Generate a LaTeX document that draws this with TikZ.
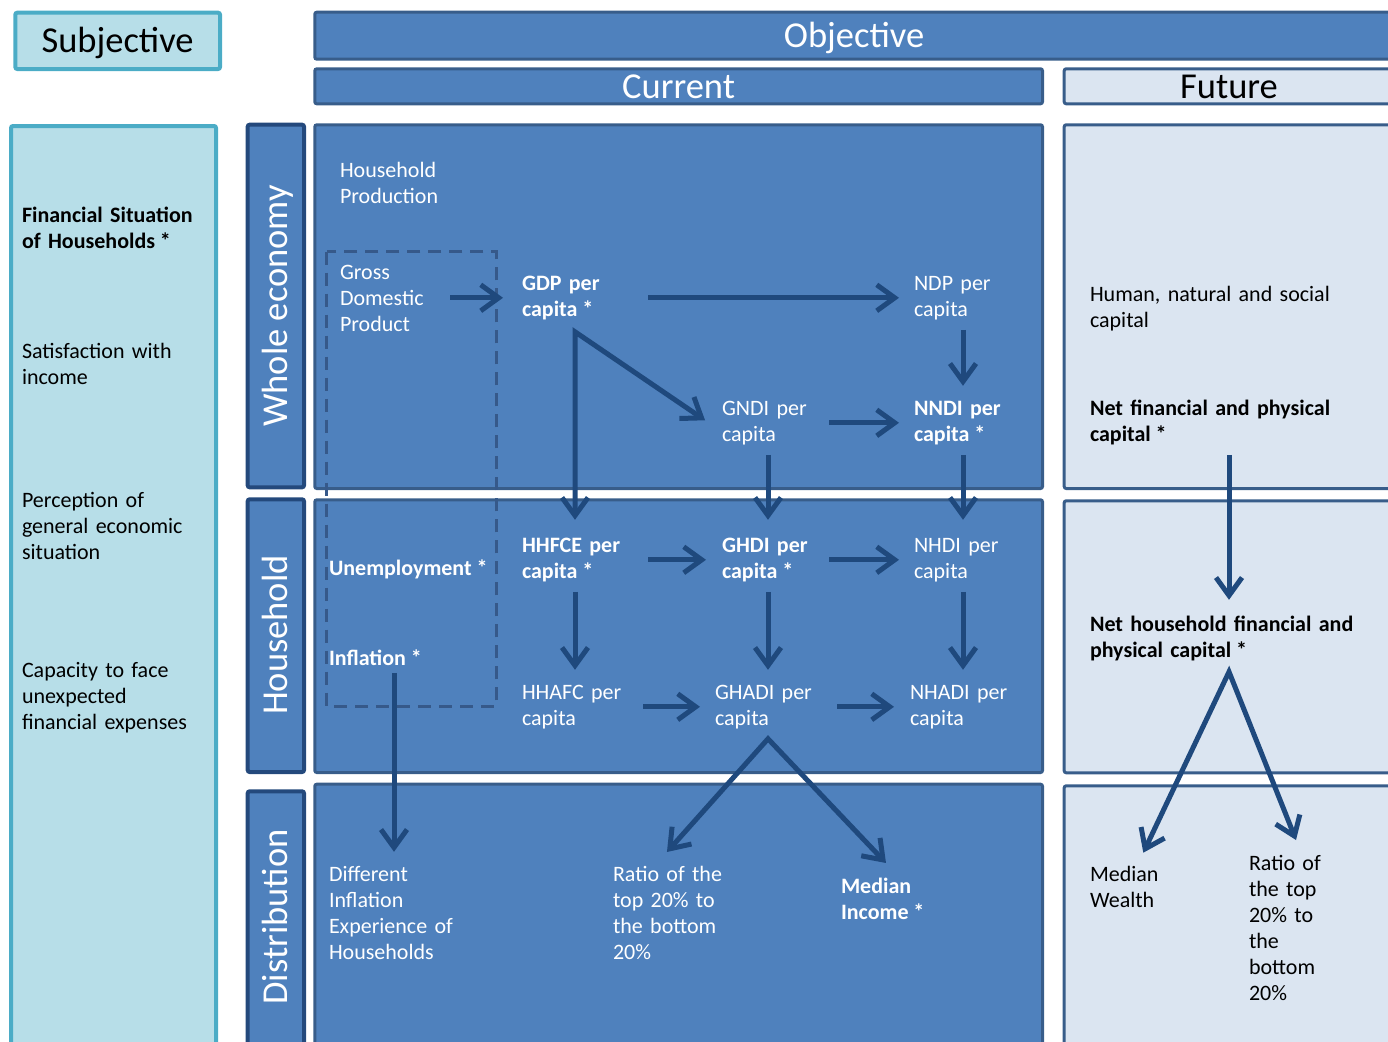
\documentclass[tikz,border=0pt]{standalone}
\usepackage{fontspec}
\setmainfont{Carlito}
\usetikzlibrary{arrows.meta}
\definecolor{bfill}{HTML}{4F81BD}
\definecolor{bline}{HTML}{385D8A}
\definecolor{rline}{HTML}{24497C}
\definecolor{lfill}{HTML}{B7DEE8}
\definecolor{lline}{HTML}{4BACC6}
\definecolor{ffill}{HTML}{DBE5F1}
\definecolor{arrc}{HTML}{1F497D}
\definecolor{dashc}{HTML}{36598A}
\newcommand\bodyfont{\fontsize{22}{26}\selectfont}
\newcommand\titlefont{\fontsize{36.5}{40}\selectfont}
\newcommand\myast{\hspace{0.22em}*}
\begin{document}
\begin{tikzpicture}[x=1pt,y=-1pt,
 bluebox/.style={draw=bline, fill=bfill, line width=3pt, rounded corners=2pt},
 rowbox/.style={draw=rline, fill=bfill, line width=4pt, rounded corners=2pt},
 futbox/.style={draw=bline, fill=ffill, line width=3pt, rounded corners=2pt},
 subbox/.style={draw=lline, fill=lfill, line width=4pt, rounded corners=2pt},
 txt/.style={anchor=north west, inner sep=0pt, outer sep=0pt, align=left, font=\bodyfont, execute at begin node=\strut, execute at end node=\strut},
 wt/.style={txt, text=white},
 wtb/.style={wt, font=\bodyfont\bfseries},
 dk/.style={txt, text=black},
 dkb/.style={dk, font=\bodyfont\bfseries},
 ttl/.style={inner sep=0pt, font=\titlefont, text height=23.5pt, text depth=0pt},
 arr/.style={draw=arrc, line width=5pt, -{Straight Barb[length=18pt,width=26pt]}},
 arrb/.style={draw=arrc, line width=5pt, {Straight Barb[length=18pt,width=26pt]}-{Straight Barb[length=18pt,width=26pt]}},
]
\clip (0,0) rectangle (1388,1041);
% header boxes
\path[subbox] (15.3,12.7) rectangle (220,69);
\path[bluebox] (314.8,12.2) rectangle (1395,59.2);
\path[bluebox] (314.8,68.8) rectangle (1042.5,103.8);
\path[futbox] (1064.2,68.8) rectangle (1396,103.8);
% left column
\path[subbox] (11,126) rectangle (216,1060);
% row labels
\path[rowbox] (247.7,124.7) rectangle (304,487.3);
\path[rowbox] (247.7,499.3) rectangle (304,772);
\path[rowbox] (247.7,791.3) rectangle (304,1060);
% current panels
\path[bluebox] (314.8,124.8) rectangle (1042.5,488.5);
\path[bluebox] (314.8,499.8) rectangle (1042.5,772.5);
\path[bluebox] (314.8,784.2) rectangle (1042.5,1060);
% future panels
\path[futbox] (1064.2,124.8) rectangle (1400,488.5);
\path[futbox] (1064.2,500.8) rectangle (1400,772.8);
\path[futbox] (1064.2,785.8) rectangle (1400,1060);
% dashed box
\draw[dashc, line width=3pt, dash pattern=on 13pt off 8pt] (326.7,251.7) rectangle (496.7,706);

% titles
\node[ttl] (subj) at (117.6,41) {Subjective};
\node[ttl, text=white] (obj) at (854,36) {Objective};
\node[ttl, text=white] (cur) at (678.6,87) {Current};
\node[ttl] (fut) at (1229,87) {Future};
\node[ttl, text=white, rotate=90] (we) at (276,306) {Whole economy};
\node[ttl, text=white, rotate=90] (hh) at (276,635) {Household};
\node[ttl, text=white, rotate=90] (dist) at (276,917) {Distribution};

% subjective column
\node[dkb, text width=190pt] (fin) at (22,203.8) {Financial~Situation\\of~Households\myast};
\node[dk, text width=190pt] (sat) at (22,339.8) {Satisfaction~with\\income};
\node[dk, text width=190pt] (perc) at (22,488.8) {Perception~of\\general~economic\\situation};
\node[dk, text width=190pt] (capn) at (22,658.8) {Capacity~to~face\\unexpected\\financial~expenses};

% current, whole economy
\node[wt, text width=120pt] (hp) at (340,158.8) {Household\\Production};
\node[wt, text width=100pt] (gross) at (340,260.8) {Gross\\Domestic\\Product};
\node[wtb, text width=106pt] (gdp) at (522,271.8) {GDP~per\\capita\myast};
\node[wt, text width=98pt] (ndp) at (914,271.8) {NDP~per\\capita};
\node[wt, text width=92pt] (gndi) at (722,396.8) {GNDI~per\\capita};
\node[wtb, text width=98pt] (nndi) at (914,396.8) {NNDI~per\\capita\myast};
% household
\node[wtb, text width=170pt] (unemp) at (329,556.8) {Unemployment\myast};
\node[wtb, text width=130pt] (infl) at (329,646.8) {Inflation\myast};
\node[wtb, text width=106pt] (hhfce) at (522,533.8) {HHFCE~per\\capita\myast};
\node[wtb, text width=92pt] (ghdi) at (722,533.8) {GHDI~per\\capita\myast};
\node[wt, text width=98pt] (nhdi) at (914,533.8) {NHDI~per\\capita};
\node[wt, text width=106pt] (hhafc) at (522,680.8) {HHAFC~per\\capita};
\node[wt, text width=106pt] (ghadi) at (715,680.8) {GHADI~per\\capita};
\node[wt, text width=106pt] (nhadi) at (910,680.8) {NHADI~per\\capita};
% distribution
\node[wt, text width=130pt] (diff) at (329,862.8) {Different\\Inflation\\Experience~of\\Households};
\node[wt, text width=110pt] (ratio) at (613,862.8) {Ratio~of~the\\top~20\%~to\\the~bottom\\20\%};
\node[wtb, text width=90pt] (median) at (841,874.8) {Median\\Income\myast};
% future
\node[dk, text width=280pt] (hum) at (1090,282.8) {Human,~natural~and~social\\capital};
\node[dkb, text width=278pt] (netfin) at (1090,396.8) {Net~financial~and~physical\\capital\myast};
\node[dkb, text width=278pt] (nethh) at (1090,612.8) {Net~household~financial~and\\physical~capital\myast};
\node[dk, text width=80pt] (mw) at (1090,862.8) {Median\\Wealth};
\node[dk, text width=80pt] (ratio2) at (1249,851.8) {Ratio~of\\the~top\\20\%~to\\the\\bottom\\20\%};

% arrows
\draw[arr, shorten <=10pt, shorten >=19pt] (gross.east |- gdp.west) -- (gdp.west);
\draw[arr, shorten <=20pt, shorten >=15pt] (gdp.east) -- (ndp.west);
\draw[arrb, shorten <=20.5pt, shorten >=14pt] ([yshift=-9pt]gndi.west) -- ([yshift=-8pt]gdp.south) -- (hhfce.north);
\draw[arr, shorten <=6pt, shorten >=11pt] (ndp.south) -- (nndi.north);
\draw[arr, shorten <=15pt, shorten >=15pt] (gndi.east) -- (nndi.west);
\draw[arr, shorten <=6pt, shorten >=14pt] (gndi.south) -- (ghdi.north);
\draw[arr, shorten <=6pt, shorten >=14pt] (nndi.south) -- (nhdi.north);
\draw[arr, shorten <=20pt, shorten >=16pt] (hhfce.east) -- (ghdi.west);
\draw[arr, shorten <=15pt, shorten >=15pt] (ghdi.east) -- (nhdi.west);
\draw[arr, shorten <=6pt, shorten >=11pt] (hhfce.south) -- (hhafc.north);
\draw[arr, shorten <=6pt, shorten >=11pt] (ghdi.south) -- (ghadi.north);
\draw[arr, shorten <=6pt, shorten >=11pt] (nhdi.south) -- (nhadi.north);
\draw[arr, shorten <=15pt, shorten >=15pt] (hhafc.east) -- (ghadi.west);
\draw[arr, shorten <=16pt, shorten >=16pt] (ghadi.east) -- (nhadi.west);
\draw[arr, shorten >=11pt] (infl.south) -- (diff.north);
\draw[arrb, shorten <=14.5pt, shorten >=16.3pt] ([xshift=44.3pt]ratio.north west) -- ([yshift=-6pt]ghadi.south) -- ([xshift=56.2pt]median.north west);
\draw[arr, shorten <=6pt, shorten >=13pt] (netfin.south) -- (nethh.north);
\draw[arrb, shorten <=11.2pt, shorten >=12.7pt] ([xshift=48.5pt]mw.north west) -- ([yshift=-7pt]nethh.south) -- ([xshift=51.7pt]ratio2.north west);
\end{tikzpicture}
\end{document}
